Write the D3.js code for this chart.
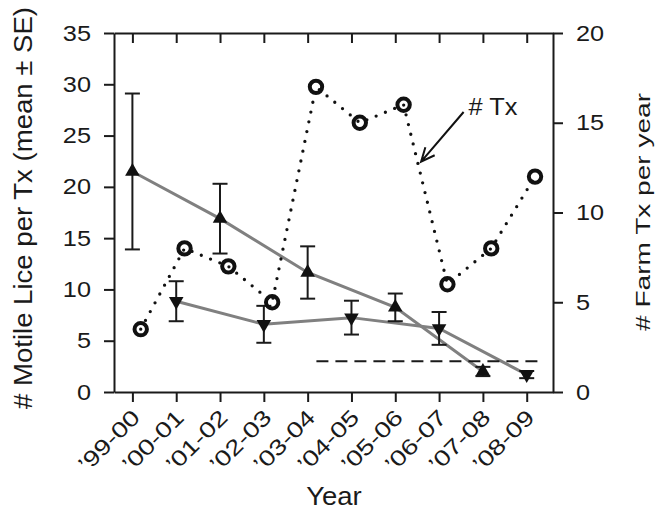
<!DOCTYPE html>
<html>
<head>
<meta charset="utf-8">
<script src="https://cdn.jsdelivr.net/npm/d3@7"></script>
<style>
  body { margin: 0; background: #fff; }
  text { font-family: "Liberation Sans", Arial, sans-serif; fill: #1a1a1a; }
</style>
</head>
<body>
<svg width="661" height="510"></svg>
<script>
// season labels on the x axis
var years = ["\u201999-00", "\u201900-01", "\u201901-02", "\u201902-03", "\u201903-04",
             "\u201904-05", "\u201905-06", "\u201906-07", "\u201907-08", "\u201908-09"];

// lice per treatment, up triangles (even seasons)
var upIdx = [0, 2, 4, 6, 8];
var upMean = [21.5, 16.9, 11.65, 8.25, 2.0];
var upSE = [7.6, 3.4, 2.55, 1.35, 0.45];

// lice per treatment, down triangles (odd seasons)
var downIdx = [1, 3, 5, 7, 9];
var downMean = [8.85, 6.6, 7.25, 6.2, 1.7];
var downSE = [1.95, 1.8, 1.65, 1.6, 0.35];

// number of farm treatments per year (right axis)
var txCount = [3.5, 8, 7, 5, 17, 15, 16, 6, 8, 12];

var leftTicks = [0, 5, 10, 15, 20, 25, 30, 35];
var rightTicks = [0, 5, 10, 15, 20];
var threshold = 3; // dashed reference level
var thresholdSpan = [4.2, 9.38];

var svg = d3.select("svg");
// note: "top" is taken by window.top, so use plot* names
var plotL = 114, plotR = 553, plotT = 33, plotB = 392;

var x = d3.scaleLinear().domain([-0.42, 9.6]).range([plotL, plotR]);
var yL = d3.scaleLinear().domain([0, 35]).range([plotB, plotT]);
var yR = d3.scaleLinear().domain([0, 20]).range([plotB, plotT]);
var circOff = 0.19; // circles sit a bit right of the tick

// stretch text along its baseline (reference font is wide)
function widen(sel, k) {
    sel.each(function () {
        var w = this.getComputedTextLength();
        d3.select(this).attr("textLength", w * k).attr("lengthAdjust", "spacingAndGlyphs");
    });
}

// axes
var gL = svg.append("g").attr("transform", "translate(" + plotL + ",0)")
    .call(d3.axisLeft(yL).tickValues(leftTicks).tickSize(10).tickSizeOuter(0).tickPadding(13));
var gR = svg.append("g").attr("transform", "translate(" + plotR + ",0)")
    .call(d3.axisRight(yR).tickValues(rightTicks).tickSize(10).tickSizeOuter(0).tickPadding(13));
var gB = svg.append("g").attr("transform", "translate(0," + plotB + ")")
    .call(d3.axisBottom(x).tickValues(d3.range(years.length)).tickSize(10).tickSizeOuter(0).tickFormat(""));
var gT = svg.append("g").attr("transform", "translate(0," + plotT + ")")
    .call(d3.axisBottom(x).tickValues(d3.range(years.length)).tickSize(10).tickSizeOuter(0).tickFormat(""));

svg.selectAll(".domain, .tick line").attr("stroke", "#1a1a1a").attr("stroke-width", 2);
[gL, gR].forEach(function (g) {
    g.attr("font-family", null).attr("font-size", null);
    g.selectAll("text").attr("font-size", 22).attr("fill", "#1a1a1a");
    widen(g.selectAll("text"), 1.15);
});

// rotated season labels
svg.append("g").selectAll("text")
    .data(years)
    .enter()
    .append("text")
    .attr("transform", function (d, i) { return "translate(" + (x(i) + 9) + "," + (plotB + 27) + ") rotate(-45)"; })
    .attr("text-anchor", "end")
    .attr("font-size", 22)
    .text(function (d) { return d; })
    .call(widen, 1.25);

// grey connecting lines
var line = d3.line().x(function (d) { return x(d[0]); }).y(function (d) { return yL(d[1]); });
var upPts = upIdx.map(function (v, i) { return [v, upMean[i]]; });
var downPts = downIdx.map(function (v, i) { return [v, downMean[i]]; });
[upPts, downPts].forEach(function (pts) {
    svg.append("path").attr("d", line(pts)).attr("fill", "none")
        .attr("stroke", "#808080").attr("stroke-width", 3);
});

// error bars
function errBars(idx, mean, se) {
    var g = svg.append("g").attr("stroke", "#1a1a1a").attr("stroke-width", 2);
    idx.forEach(function (v, i) {
        var cx = x(v), y0 = yL(mean[i] - se[i]), y1 = yL(mean[i] + se[i]);
        g.append("line").attr("x1", cx).attr("x2", cx).attr("y1", y0).attr("y2", y1);
        g.append("line").attr("x1", cx - 7.5).attr("x2", cx + 7.5).attr("y1", y0).attr("y2", y0);
        g.append("line").attr("x1", cx - 7.5).attr("x2", cx + 7.5).attr("y1", y1).attr("y2", y1);
    });
}
errBars(upIdx, upMean, upSE);
errBars(downIdx, downMean, downSE);

// dashed reference line
svg.append("line")
    .attr("x1", x(thresholdSpan[0])).attr("x2", x(thresholdSpan[1]))
    .attr("y1", yL(threshold)).attr("y2", yL(threshold))
    .attr("stroke", "#1a1a1a").attr("stroke-width", 2).attr("stroke-dasharray", "12,7");

// triangles
var tri = d3.symbol().type(d3.symbolTriangle).size(92);
svg.selectAll(".up").data(upPts).enter().append("path")
    .attr("class", "up").attr("d", tri)
    .attr("transform", function (d) { return "translate(" + x(d[0]) + "," + yL(d[1]) + ")"; })
    .attr("fill", "#111");
svg.selectAll(".down").data(downPts).enter().append("path")
    .attr("class", "down").attr("d", tri)
    .attr("transform", function (d) { return "translate(" + x(d[0]) + "," + yL(d[1]) + ") rotate(180)"; })
    .attr("fill", "#111");

// dotted treatment-count line with open circles
var txLine = d3.line().x(function (d, i) { return x(i + circOff); }).y(function (d) { return yR(d); });
svg.append("path").attr("d", txLine(txCount)).attr("fill", "none")
    .attr("stroke", "#111").attr("stroke-width", 3.3).attr("stroke-linecap", "round")
    .attr("stroke-dasharray", "0,10");
svg.selectAll(".tx").data(txCount).enter().append("circle")
    .attr("class", "tx")
    .attr("cx", function (d, i) { return x(i + circOff); })
    .attr("cy", function (d) { return yR(d); })
    .attr("r", 6.2)
    .attr("fill", "none").attr("stroke", "#111").attr("stroke-width", 4);

// "# Tx" annotation with arrow
var arrowTail = [7.56, 15.6], arrowTip = [6.59, 12.83];
var ax0 = x(arrowTail[0]), ay0 = yR(arrowTail[1]), ax1 = x(arrowTip[0]), ay1 = yR(arrowTip[1]);
var ang = Math.atan2(ay1 - ay0, ax1 - ax0);
var head = 15, spread = 0.42;
svg.append("path")
    .attr("d", "M" + ax0 + "," + ay0 + "L" + ax1 + "," + ay1 +
        "M" + (ax1 - head * Math.cos(ang - spread)) + "," + (ay1 - head * Math.sin(ang - spread)) +
        "L" + ax1 + "," + ay1 +
        "L" + (ax1 - head * Math.cos(ang + spread)) + "," + (ay1 - head * Math.sin(ang + spread)))
    .attr("fill", "none").attr("stroke", "#111").attr("stroke-width", 2);
svg.append("text")
    .attr("x", x(7.67)).attr("y", yR(15.43))
    .attr("font-size", 23.5)
    .text("# Tx")
    .call(widen, 1.08);

// axis titles
svg.append("text")
    .attr("transform", "translate(32,208) rotate(-90)")
    .attr("text-anchor", "middle").attr("font-size", 25.5)
    .attr("textLength", 402).attr("lengthAdjust", "spacingAndGlyphs")
    .text("# Motile Lice per Tx (mean \u00b1 SE)");
svg.append("text")
    .attr("transform", "translate(650,212) rotate(-90)")
    .attr("text-anchor", "middle").attr("font-size", 21)
    .attr("textLength", 238).attr("lengthAdjust", "spacingAndGlyphs")
    .text("# Farm Tx per year");
svg.append("text")
    .attr("x", 334).attr("y", 505)
    .attr("text-anchor", "middle").attr("font-size", 25)
    .text("Year")
    .call(widen, 1.1);
</script>
</body>
</html>
